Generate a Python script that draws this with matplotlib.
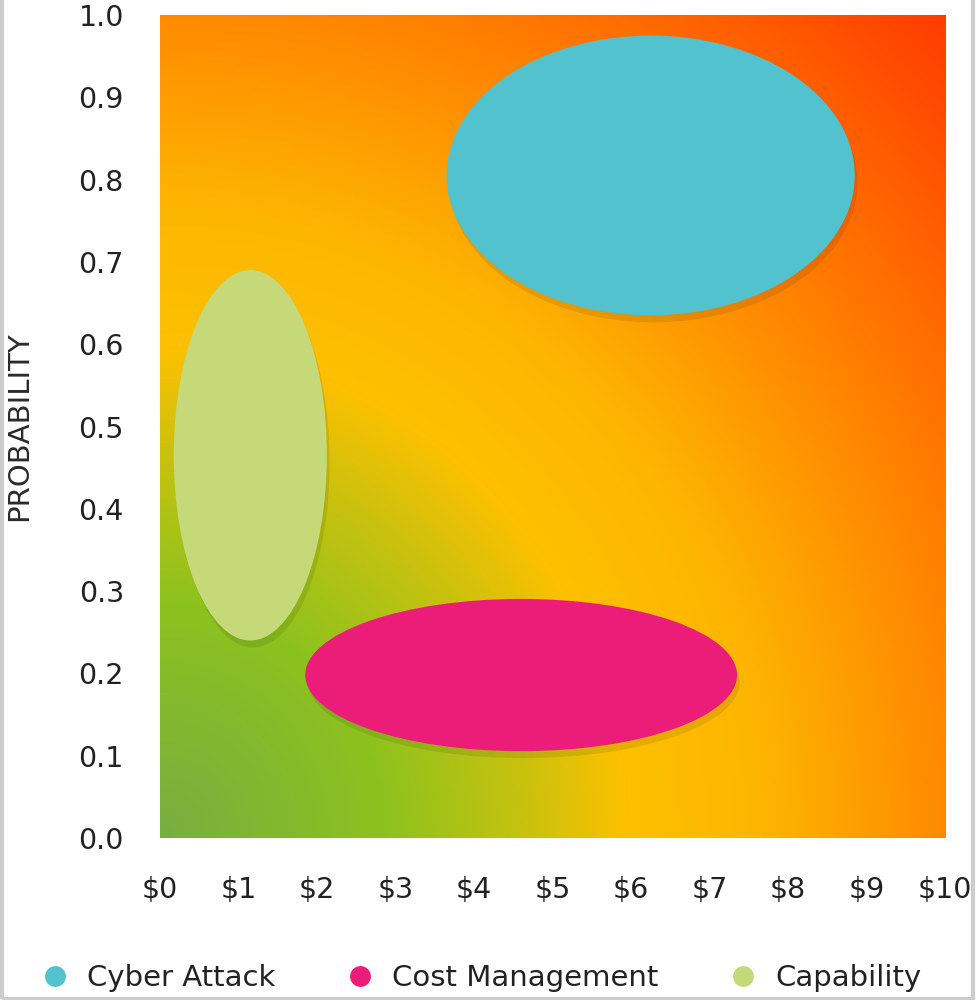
import numpy as np
import matplotlib.pyplot as plt
from matplotlib.patches import Ellipse, Rectangle
from matplotlib.colors import LinearSegmentedColormap
from matplotlib.lines import Line2D
import matplotlib.patheffects as pe

plt.rcParams['font.family'] = ['DejaVu Sans']

# risk data: cost centre / spread, probability centre / spread
risks = ['Cyber Attack', 'Cost Management', 'Capability']
cost_mid = [6.25, 4.6, 1.15]
cost_span = [5.2, 5.5, 1.95]
prob_mid = [0.805, 0.198, 0.465]
prob_span = [0.34, 0.185, 0.45]
colors = ['#52C2CF', '#EC1C79', '#C6D979']

xticks = list(range(0, 11))
xlabels = ['$' + str(v) for v in xticks]
yticks = [round(0.1 * i, 1) for i in range(11)]

fig = plt.figure(figsize=(9.77, 10), dpi=100)
ax = fig.add_axes([0.1638, 0.162, 0.8035, 0.823])

# heat background
heat = LinearSegmentedColormap.from_list('heat', [
    (0.0, '#78AE40'), (0.2, '#8CC21E'), (0.32, '#C4C210'),
    (0.42, '#FDC000'), (0.54, '#FDB600'), (0.7, '#FF8C00'),
    (0.82, '#FF6C00'), (1.0, '#FF3C00')])
gx, gy = np.meshgrid(np.linspace(0, 1, 300), np.linspace(0, 1, 300))
dist = np.sqrt(gx ** 2 + gy ** 2) / np.sqrt(2)
ax.imshow(dist, extent=[0, 10, 0, 1], origin='lower', aspect='auto',
          cmap=heat, vmin=0, vmax=1, zorder=0, interpolation='bilinear')

for cx, w, cy, h, c in zip(cost_mid, cost_span, prob_mid, prob_span, colors):
    e = Ellipse((cx, cy), w, h, facecolor=c, edgecolor='none', zorder=2)
    e.set_path_effects([pe.SimplePatchShadow(offset=(2, -5), shadow_rgbFace='#000000', alpha=0.09),
                        pe.Normal()])
    ax.add_patch(e)

ax.set_xlim(0, 10)
ax.set_ylim(0, 1)
ax.set_xticks(xticks)
ax.set_xticklabels(xlabels)
ax.set_yticks(yticks)
ax.set_yticklabels([f'{v:.1f}' for v in yticks])
ax.tick_params(length=0, labelsize=20.5, colors='#222222')
ax.tick_params(axis='x', pad=27)
ax.tick_params(axis='y', pad=26)
for s in ax.spines.values():
    s.set_visible(False)
ax.set_ylabel('PROBABILITY', fontsize=21, color='#2a2a2a')
ax.yaxis.set_label_coords(-0.162, 0.5)

handles = [Line2D([], [], marker='o', linestyle='none', markersize=15,
                  markerfacecolor=c, markeredgecolor='none') for c in colors]
fig.legend(handles, risks, loc='center', bbox_to_anchor=(0.485, 0.022), ncol=3,
           frameon=False, fontsize=21, handletextpad=0.1, columnspacing=1.9,
           labelcolor='#222222')

# light frame of the screenshot
fig.patches.append(Rectangle((0.002, 0.001), 0.994, 1.2, transform=fig.transFigure,
                             fill=False, edgecolor='#cccccc', linewidth=3))

fig.savefig('out.png', dpi=100)
